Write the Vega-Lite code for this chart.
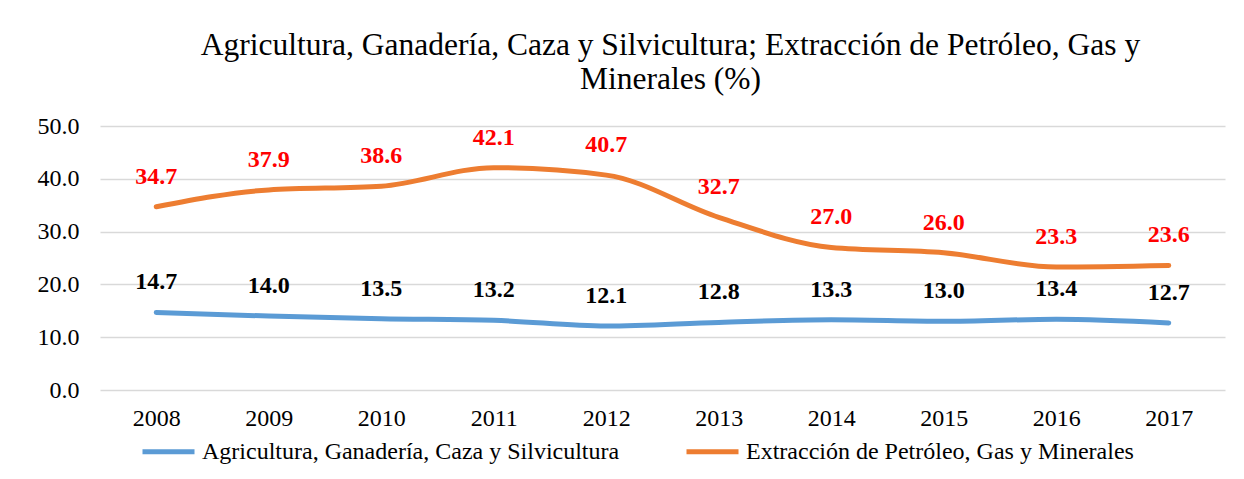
{
  "$schema": "https://vega.github.io/schema/vega-lite/v6.json",
  "width": 1125,
  "height": 264,
  "autosize": {"type": "none"},
  "padding": {"left": 100, "top": 126, "right": 19, "bottom": 89},
  "background": "white",
  "config": {"view": {"stroke": null}},
  "title": {
    "text": ["Agricultura, Ganadería, Caza y Silvicultura; Extracción de Petróleo, Gas y", "Minerales (%)"],
    "font": "Liberation Serif",
    "fontSize": 31.5,
    "fontWeight": "normal",
    "color": "#000000",
    "lineHeight": 34,
    "anchor": "middle",
    "dx": 8,
    "offset": 19
  },
  "data": {
    "values": [
      {"year": "2008", "series": "Agricultura, Ganadería, Caza y Silvicultura", "value": 14.7},
      {"year": "2009", "series": "Agricultura, Ganadería, Caza y Silvicultura", "value": 14.0},
      {"year": "2010", "series": "Agricultura, Ganadería, Caza y Silvicultura", "value": 13.5},
      {"year": "2011", "series": "Agricultura, Ganadería, Caza y Silvicultura", "value": 13.2},
      {"year": "2012", "series": "Agricultura, Ganadería, Caza y Silvicultura", "value": 12.1},
      {"year": "2013", "series": "Agricultura, Ganadería, Caza y Silvicultura", "value": 12.8},
      {"year": "2014", "series": "Agricultura, Ganadería, Caza y Silvicultura", "value": 13.3},
      {"year": "2015", "series": "Agricultura, Ganadería, Caza y Silvicultura", "value": 13.0},
      {"year": "2016", "series": "Agricultura, Ganadería, Caza y Silvicultura", "value": 13.4},
      {"year": "2017", "series": "Agricultura, Ganadería, Caza y Silvicultura", "value": 12.7},
      {"year": "2008", "series": "Extracción de Petróleo, Gas y Minerales", "value": 34.7},
      {"year": "2009", "series": "Extracción de Petróleo, Gas y Minerales", "value": 37.9},
      {"year": "2010", "series": "Extracción de Petróleo, Gas y Minerales", "value": 38.6},
      {"year": "2011", "series": "Extracción de Petróleo, Gas y Minerales", "value": 42.1},
      {"year": "2012", "series": "Extracción de Petróleo, Gas y Minerales", "value": 40.7},
      {"year": "2013", "series": "Extracción de Petróleo, Gas y Minerales", "value": 32.7},
      {"year": "2014", "series": "Extracción de Petróleo, Gas y Minerales", "value": 27.0},
      {"year": "2015", "series": "Extracción de Petróleo, Gas y Minerales", "value": 26.0},
      {"year": "2016", "series": "Extracción de Petróleo, Gas y Minerales", "value": 23.3},
      {"year": "2017", "series": "Extracción de Petróleo, Gas y Minerales", "value": 23.6}
    ]
  },
  "encoding": {
    "x": {
      "field": "year",
      "type": "ordinal",
      "scale": {"type": "point", "padding": 0.5},
      "axis": {
        "title": null,
        "labelAngle": 0,
        "ticks": false,
        "domain": false,
        "grid": false,
        "labelFont": "Liberation Serif",
        "labelFontSize": 24,
        "labelColor": "#000000",
        "labelPadding": 16
      }
    },
    "y": {
      "field": "value",
      "type": "quantitative",
      "scale": {"domain": [0, 50], "nice": false},
      "axis": {
        "title": null,
        "values": [0, 10, 20, 30, 40, 50],
        "format": ".1f",
        "ticks": false,
        "domain": false,
        "grid": true,
        "gridColor": "#D9D9D9",
        "gridWidth": 1.5,
        "labelFont": "Liberation Serif",
        "labelFontSize": 24,
        "labelColor": "#000000",
        "labelPadding": 21
      }
    }
  },
  "layer": [
    {
      "mark": {"type": "line", "strokeWidth": 5, "strokeCap": "round", "interpolate": "monotone"},
      "encoding": {
        "color": {
          "field": "series",
          "type": "nominal",
          "scale": {
            "domain": ["Agricultura, Ganadería, Caza y Silvicultura", "Extracción de Petróleo, Gas y Minerales"],
            "range": ["#5B9BD5", "#ED7D31"]
          },
          "legend": {
            "title": null,
            "orient": "none",
            "legendX": 40,
            "legendY": 297,
            "direction": "horizontal",
            "symbolType": "stroke",
            "symbolSize": 2704,
            "symbolStrokeWidth": 5,
            "labelFont": "Liberation Serif",
            "labelFontSize": 24,
            "labelColor": "#000000",
            "labelLimit": 700,
            "labelOffset": 5,
            "columnPadding": 56
          }
        }
      }
    },
    {
      "mark": {"type": "text", "font": "Liberation Serif", "fontSize": 24, "fontWeight": "bold", "dy": -30, "baseline": "middle"},
      "encoding": {
        "text": {"field": "value", "type": "quantitative", "format": ".1f"},
        "color": {
          "condition": {"test": "datum.series === 'Extracción de Petróleo, Gas y Minerales'", "value": "#FF0000"},
          "value": "#000000"
        }
      }
    }
  ]
}
